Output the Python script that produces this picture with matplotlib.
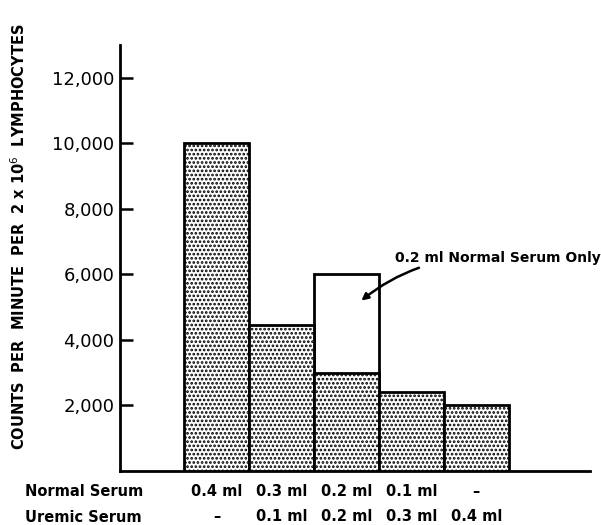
import matplotlib
matplotlib.use("Agg")
import matplotlib.pyplot as plt

# values
normal_serum = ["0.4 ml", "0.3 ml", "0.2 ml", "0.1 ml", "\u2013"]
uremic_serum = ["\u2013", "0.1 ml", "0.2 ml", "0.3 ml", "0.4 ml"]
counts = [10000, 4450, 3000, 2400, 2000]
normal_only = 6000          # open bar over the third group
yticks = [2000, 4000, 6000, 8000, 10000, 12000]

plt.rcParams['font.family'] = ['DejaVu Sans']
plt.rcParams['hatch.linewidth'] = 1.3

fig = plt.figure(figsize=(6.01, 5.25), dpi=100)
ax = fig.add_axes([120/601, 1 - 471/525, 470/601, 426/525])

pos = list(range(len(counts)))
# open bar (normal serum only) drawn first, stippled bars on top
ax.bar(2, normal_only, width=1.0, facecolor='white', edgecolor='black',
       linewidth=2, zorder=2)
ax.bar(pos, counts, width=1.0, facecolor='white', edgecolor='black',
       hatch='....', linewidth=2, zorder=3)

ax.set_xlim(-1.485, 5.75)
ax.set_ylim(0, 13000)
ax.set_xticks([])
ax.set_yticks(yticks)
ax.set_yticklabels([f"{v:,}" for v in yticks], fontsize=13)
ax.tick_params(axis='y', direction='in', length=9, width=1.8, pad=4)
for s in ['top', 'right']:
    ax.spines[s].set_visible(False)
for s in ['left', 'bottom']:
    ax.spines[s].set_linewidth(2)

ax.set_ylabel("COUNTS  PER  MINUTE  PER  2 x 10$^6$  LYMPHOCYTES",
              fontsize=10.5, fontweight='bold')
ax.yaxis.set_label_coords(-0.195, 0.55)

# row labels under the axis
fig.text(25/601, 1 - 492/525, "Normal Serum", fontsize=10.5,
         fontweight='bold', va='center', ha='left')
fig.text(25/601, 1 - 517/525, "Uremic Serum", fontsize=10.5,
         fontweight='bold', va='center', ha='left')
for i in pos:
    ax.text(i, -0.048, normal_serum[i], transform=ax.get_xaxis_transform(),
            ha='center', va='center', fontsize=10.5, fontweight='bold')
    ax.text(i, -0.107, uremic_serum[i], transform=ax.get_xaxis_transform(),
            ha='center', va='center', fontsize=10.5, fontweight='bold')

ax.annotate("0.2 ml Normal Serum Only", xy=(2.23, 5200), xytext=(2.75, 6500),
            fontsize=10, fontweight='bold', ha='left', va='center',
            arrowprops=dict(arrowstyle='-|>', color='black', lw=1.8,
                            connectionstyle='arc3,rad=0.2',
                            shrinkA=0, shrinkB=0),
            annotation_clip=False)

fig.savefig("out.png", dpi=100)
